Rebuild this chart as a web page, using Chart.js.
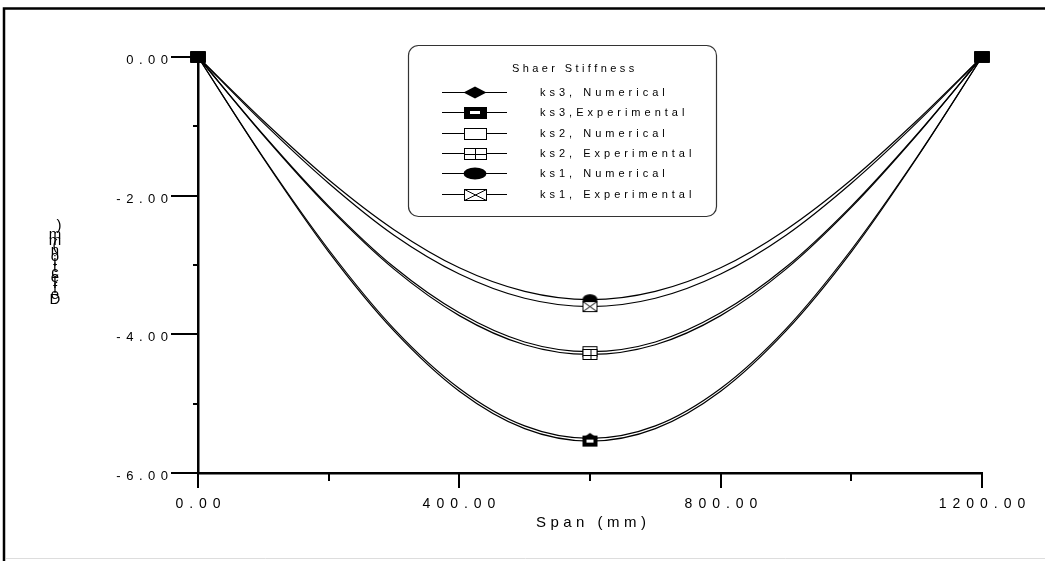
<!DOCTYPE html>
<html>
<head>
<meta charset="utf-8">
<title>Shaer Stiffness</title>
<script src="https://cdn.jsdelivr.net/npm/chart.js"></script>
<style>
  html, body { margin: 0; padding: 0; background: #fff; }
  #canvas-wrapper { position: relative; width: 1045px; height: 561px; }
</style>
</head>
<body>
<div id="canvas-wrapper"><canvas id="canvas" width="1045" height="561"></canvas></div>
<script>
// span positions (mm) and deflections (mm)
var spans = [0, 100, 200, 300, 400, 500, 600, 700, 800, 900, 1000, 1100, 1200];
var ks3Num = [0, -1.45, -2.78, -3.92, -4.78, -5.32, -5.50, -5.32, -4.78, -3.92, -2.78, -1.45, 0];
var ks3Exp = [0, -1.46, -2.81, -3.95, -4.82, -5.36, -5.54, -5.36, -4.82, -3.95, -2.81, -1.46, 0];
var ks2Num = [0, -1.12, -2.15, -3.03, -3.69, -4.11, -4.25, -4.11, -3.69, -3.03, -2.15, -1.12, 0];
var ks2Exp = [0, -1.13, -2.17, -3.06, -3.73, -4.15, -4.29, -4.15, -3.73, -3.06, -2.17, -1.13, 0];
var ks1Num = [0, -0.92, -1.77, -2.49, -3.04, -3.38, -3.50, -3.38, -3.04, -2.49, -1.77, -0.92, 0];
var ks1Exp = [0, -0.95, -1.82, -2.57, -3.13, -3.48, -3.60, -3.48, -3.13, -2.57, -1.82, -0.95, 0];

var seriesLabels = ['ks3, Numerical', 'ks3,Experimental', 'ks2, Numerical', 'ks2, Experimental', 'ks1, Numerical', 'ks1, Experimental'];
var seriesValues = [ks3Num, ks3Exp, ks2Num, ks2Exp, ks1Num, ks1Exp];
var seriesMarks = ['diamond', 'solidBox', 'box', 'gridBox', 'ellipse', 'crossBox'];
// experimental on top of numerical, ks3 experimental on top of all
var seriesOrder = [5, 0, 4, 2, 3, 1];
var markedSpans = [0, 600, 1200];

var xTicksMajor = [0, 400, 800, 1200];
var yTicksMajor = [-6, -4, -2, 0];

// draw one marker centred on cx, cy
function drawMark(ctx, kind, cx, cy, w, h) {
  var l = Math.round(cx - w / 2) + 0.5, t = Math.round(cy - h / 2) + 0.5;
  ctx.save();
  ctx.lineWidth = 1;
  ctx.strokeStyle = '#000';
  ctx.fillStyle = '#000';
  if (kind === 'diamond') {
    ctx.beginPath();
    ctx.moveTo(cx, cy - h / 2);
    ctx.lineTo(cx + w / 2, cy);
    ctx.lineTo(cx, cy + h / 2);
    ctx.lineTo(cx - w / 2, cy);
    ctx.closePath();
    ctx.fill();
  } else if (kind === 'solidBox' || kind === 'fullBox') {
    ctx.fillRect(l - 0.5, t - 0.5, w, h);
    if (kind === 'solidBox') {
      ctx.fillStyle = '#fff';
      ctx.fillRect(Math.round(cx - w * 0.22), Math.round(cy - h * 0.14), Math.round(w * 0.44), Math.max(2, Math.round(h * 0.28)));
    }
  } else if (kind === 'ellipse') {
    ctx.beginPath();
    ctx.ellipse(cx, cy, w / 2, h / 2, 0, 0, Math.PI * 2);
    ctx.fill();
  } else {
    ctx.fillStyle = '#fff';
    ctx.fillRect(l, t, w - 1, h - 1);
    ctx.strokeRect(l, t, w - 1, h - 1);
    ctx.beginPath();
    if (kind === 'gridBox') {
      var mx = Math.round(cx) + 0.5, my = Math.round(cy) + 0.5;
      ctx.moveTo(mx, t); ctx.lineTo(mx, t + h - 1);
      ctx.moveTo(l, my); ctx.lineTo(l + w - 1, my);
    } else if (kind === 'crossBox') {
      ctx.moveTo(l, t); ctx.lineTo(l + w - 1, t + h - 1);
      ctx.moveTo(l + w - 1, t); ctx.lineTo(l, t + h - 1);
    }
    ctx.stroke();
  }
  ctx.restore();
}

function markImage(kind, w, h) {
  var c = document.createElement('canvas');
  c.width = w + 2;
  c.height = h + 2;
  drawMark(c.getContext('2d'), kind, (w + 2) / 2, (h + 2) / 2, w, h);
  return c;
}

// the markers piled up at the supports show as one solid block
var supportMark = markImage('fullBox', 15, 11);

// text with wide letter gaps like the original plot
function spacedText(ctx, text, x, y, gap, align) {
  var widths = [], total = 0;
  for (var i = 0; i < text.length; i++) {
    var w = ctx.measureText(text[i]).width;
    widths.push(w);
    total += w;
  }
  total += gap * (text.length - 1);
  var start = x;
  if (align === 'right') start = x - total;
  if (align === 'center') start = x - total / 2;
  ctx.textAlign = 'left';
  for (var j = 0; j < text.length; j++) {
    ctx.fillText(text[j], start, y);
    start += widths[j] + gap;
  }
}

var axisDecor = {
  id: 'axisDecor',
  beforeDraw: function(chart) {
    var ctx = chart.ctx;
    ctx.save();
    // outer frame
    ctx.strokeStyle = '#000';
    ctx.lineWidth = 2.5;
    ctx.beginPath();
    ctx.moveTo(4, 561);
    ctx.lineTo(4, 8.5);
    ctx.lineTo(1045, 8.5);
    ctx.stroke();
    ctx.strokeStyle = '#ddd';
    ctx.lineWidth = 1;
    ctx.beginPath();
    ctx.moveTo(6, 558.5);
    ctx.lineTo(1045, 558.5);
    ctx.stroke();
    ctx.restore();
  },
  afterDraw: function(chart) {
    var ctx = chart.ctx;
    var xs = chart.scales.x, ys = chart.scales.y;
    var left = chart.chartArea.left, bottom = chart.chartArea.bottom;
    ctx.save();
    ctx.strokeStyle = '#000';
    ctx.fillStyle = '#000';
    ctx.lineWidth = 2;
    ctx.textBaseline = 'alphabetic';

    // y ticks and labels
    ctx.font = '13px "Liberation Sans", Arial, sans-serif';
    ys.ticks.forEach(function(t) {
      var py = Math.round(ys.getPixelForValue(t.value));
      var major = yTicksMajor.indexOf(t.value) >= 0;
      ctx.beginPath();
      ctx.moveTo(left, py);
      ctx.lineTo(left - (major ? 27 : 5), py);
      ctx.stroke();
      if (major) spacedText(ctx, t.value.toFixed(2), 168, py + 7, 5.5, 'right');
    });

    // x ticks and labels
    ctx.font = '14px "Liberation Sans", Arial, sans-serif';
    xs.ticks.forEach(function(t) {
      var px = Math.round(xs.getPixelForValue(t.value));
      var major = xTicksMajor.indexOf(t.value) >= 0;
      ctx.beginPath();
      ctx.moveTo(px, bottom);
      ctx.lineTo(px, bottom + (major ? 15 : 8));
      ctx.stroke();
      if (major) spacedText(ctx, t.value.toFixed(2), px, 508, 6, 'center');
    });

    // axis titles
    ctx.font = '15px "Liberation Sans", Arial, sans-serif';
    spacedText(ctx, 'Span (mm)', 591, 527, 4.5, 'center');

    ctx.font = '15px "Liberation Sans", Arial, sans-serif';
    var yTitle = 'Deflection (mm)'.replace(' ', '');
    for (var i = 0; i < yTitle.length; i++) {
      var ch = yTitle[i];
      var cx = ch === ')' ? 59 : 55;
      ctx.textAlign = 'center';
      ctx.fillText(ch, cx, 304 - i * 5.4 - (i === yTitle.length - 1 ? 4 : 0));
    }

    // legend box
    ctx.lineWidth = 1.2;
    ctx.strokeStyle = '#333';
    ctx.beginPath();
    ctx.roundRect(408.5, 45.5, 308, 171, 10);
    ctx.stroke();

    ctx.font = '11px "Liberation Sans", Arial, sans-serif';
    ctx.textBaseline = 'middle';
    spacedText(ctx, 'Shaer Stiffness', 512, 69, 3.4, 'left');
    for (var k = 0; k < seriesLabels.length; k++) {
      var ry = Math.round(92 + k * 20.3) + 0.5;
      ctx.strokeStyle = '#000';
      ctx.lineWidth = 1;
      ctx.beginPath();
      ctx.moveTo(442, ry);
      ctx.lineTo(507, ry);
      ctx.stroke();
      drawMark(ctx, seriesMarks[k], 475, ry, 23, 12);
      ctx.fillStyle = '#000';
      spacedText(ctx, seriesLabels[k], 540, ry, 4, 'left');
    }
    ctx.restore();
  }
};

var datasets = [];
for (var s = 0; s < seriesLabels.length; s++) {
  var pts = [];
  for (var i = 0; i < spans.length; i++) {
    pts.push({ x: spans[i], y: seriesValues[s][i] });
  }
  (function(img) {
    datasets.push({
      label: seriesLabels[s],
      data: pts,
      borderColor: '#000',
      backgroundColor: '#000',
      borderWidth: 1.2,
      fill: false,
      cubicInterpolationMode: 'monotone',
      pointStyle: function(ctx) {
        var x = spans[ctx.dataIndex];
        return (x === 0 || x === 1200) ? supportMark : img;
      },
      pointRadius: function(ctx) {
        return markedSpans.indexOf(spans[ctx.dataIndex]) >= 0 ? 6 : 0;
      },
      pointHoverRadius: 0,
      order: seriesOrder[s],
      clip: false
    });
  })(markImage(seriesMarks[s], 15, 11));
}

var ctx = document.getElementById('canvas').getContext('2d');
var myChart = new Chart(ctx, {
  type: 'line',
  data: { datasets: datasets },
  plugins: [axisDecor],
  options: {
    responsive: false,
    animation: false,
    devicePixelRatio: 1,
    layout: { padding: { left: 198, right: 63, top: 57, bottom: 88 } },
    plugins: {
      legend: { display: false },
      tooltip: { enabled: false }
    },
    scales: {
      x: {
        type: 'linear',
        min: 0,
        max: 1200,
        ticks: { display: false, stepSize: 200 },
        grid: { drawOnChartArea: false, drawTicks: false },
        border: { color: '#000', width: 2.5 }
      },
      y: {
        min: -6,
        max: 0,
        ticks: { display: false, stepSize: 1 },
        grid: { drawOnChartArea: false, drawTicks: false },
        border: { color: '#000', width: 2.5 }
      }
    }
  }
});
</script>
</body>
</html>
